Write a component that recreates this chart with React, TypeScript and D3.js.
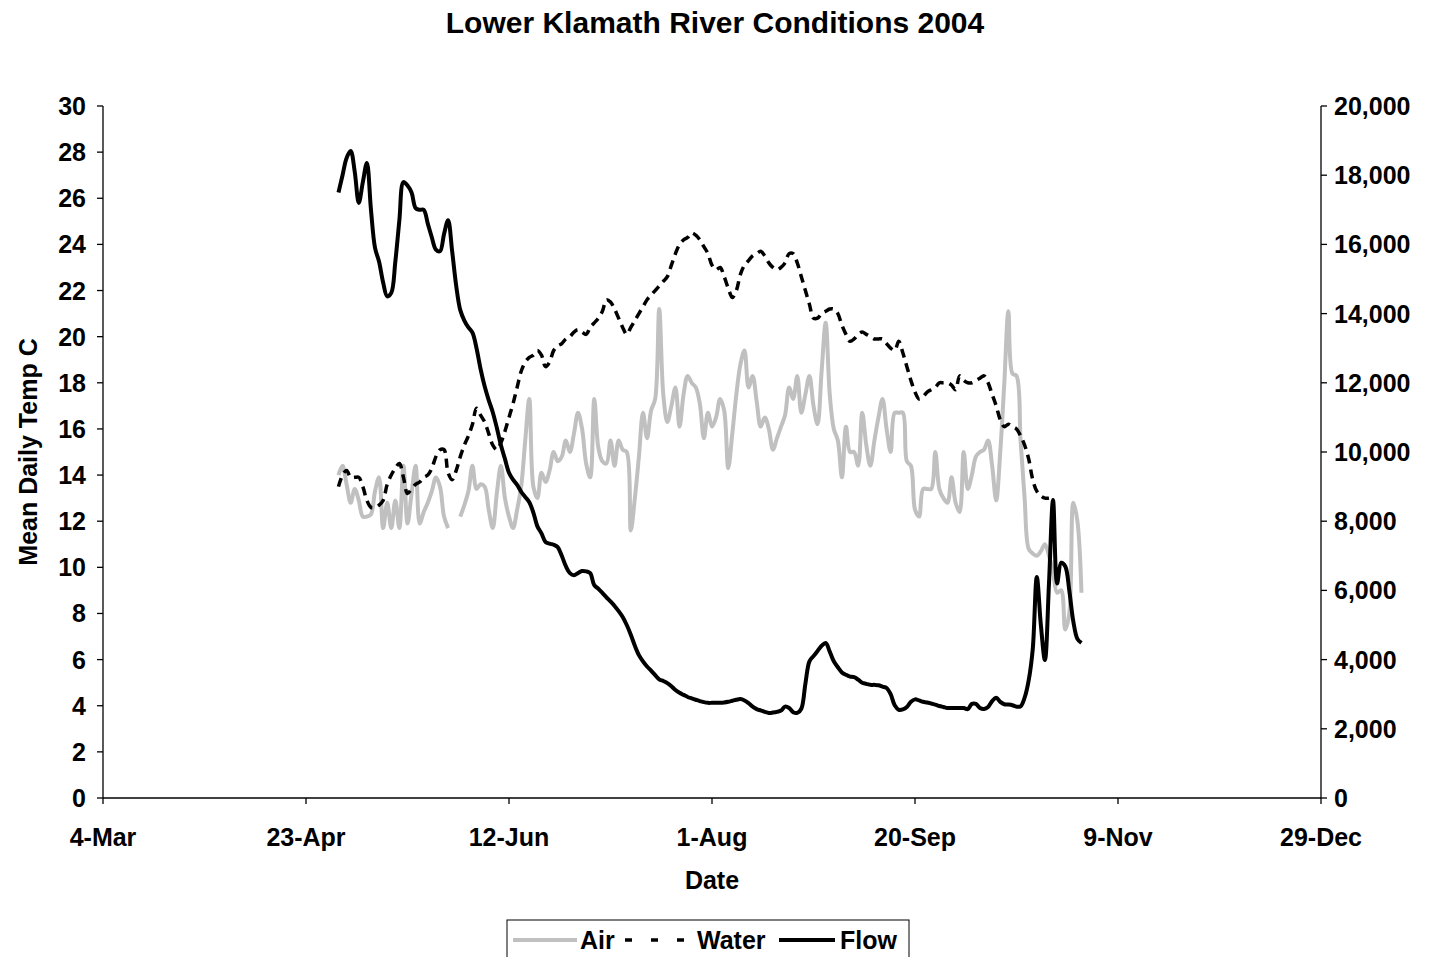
import React from "react";
import * as d3 from "d3";

const START = Date.UTC(2004, 4, 1);
const DAY = 86400000;

const airTemp: (number | null)[] = [
  14.0, 14.4, 13.6, 12.8, 13.4, 12.9, 12.2, 12.2, 12.3, 13.3,
  13.9, 11.7, 12.8, 11.7, 12.9, 11.7, 14.4, 11.9, 13.2, 14.4,
  11.9, 12.4, 12.8, 13.3, 13.9, 13.5, 12.2, 11.7, null, null,
  12.2, 12.7, 13.3, 14.4, 13.4, 13.6, 13.5, 12.5, 11.7, 13.2,
  14.4, 13.0, 12.2, 11.7, 12.5, 13.5, 15.5, 17.3, 13.5, 13.0,
  14.1, 13.7, 14.2, 15.0, 14.6, 14.8, 15.5, 15.0, 15.8, 16.7,
  16.0, 14.5, 13.9, 17.3, 15.2, 14.6, 14.5, 15.5, 14.4, 15.5,
  15.1, 15.0, 11.6, 13.0, 14.8, 16.7, 15.6, 16.8, 17.3, 21.2,
  17.5, 16.3, 17.0, 17.8, 16.1, 17.5, 18.3, 18.0, 17.8, 17.1,
  15.6, 16.7, 16.1, 16.5, 17.3, 16.8, 14.3, 15.8, 17.5, 18.8,
  19.4, 17.8, 18.3, 17.2, 16.1, 16.5, 16.0, 15.1, 15.6, 16.1,
  16.6, 17.8, 17.3, 18.3, 16.7, 17.5, 18.3, 17.0, 16.2, 18.5,
  20.6, 17.5, 16.0, 15.5, 13.9, 16.1, 15.0, 15.0, 14.4, 16.7,
  15.3, 14.4, 15.5, 16.5, 17.3, 16.0, 15.0, 16.7, 16.7, 16.7,
  14.6, 14.4, 12.5, 12.2, 13.4, 13.4, 13.4, 15.0, 13.4, 13.0,
  12.8, 13.9, 12.8, 12.4, 15.0, 13.4, 14.0, 14.8, 15.0, 15.1,
  15.5, 14.4, 12.9, 15.0, 18.0, 21.1, 18.4, 18.3, 15.5, 13.0,
  10.8, 10.6, 10.5, 10.7, 11.0, 10.5, 9.8, 8.9, 9.0, 7.3,
  8.0, 12.8, 12.0, 8.9,
];

const waterTemp: (number | null)[] = [
  13.5, 14.0, 14.2, 13.9, 13.9, 13.9, 13.5, 12.9, 12.6, 12.6,
  12.7, 12.9, 13.6, 14.0, 14.3, 14.5, 13.9, 13.2, 13.4, 13.6,
  13.7, 13.9, 14.0, 14.3, 14.8, 15.1, 15.1, 14.1, 13.8, 14.2,
  14.8, 15.3, 15.7, 16.2, 16.9, 16.6, 16.3, 15.8, 15.3, 15.1,
  15.4, 15.9, 16.5, 17.1, 17.8, 18.5, 18.9, 19.1, 19.2, 19.4,
  19.2, 18.7, 18.9, 19.4, 19.6, 19.7, 19.9, 20.0, 20.2, 20.3,
  20.2, 20.1, 20.4, 20.6, 20.8, 21.1, 21.6, 21.5, 21.2, 20.8,
  20.4, 20.1, 20.4, 20.7, 21.0, 21.3, 21.6, 21.8, 22.0, 22.2,
  22.4, 22.6, 23.1, 23.6, 24.0, 24.2, 24.3, 24.5, 24.4, 24.2,
  23.9, 23.6, 23.1, 22.9, 23.0, 22.6, 22.1, 21.7, 22.0, 22.7,
  23.1, 23.3, 23.5, 23.6, 23.7, 23.5, 23.2, 23.0, 22.9, 23.0,
  23.2, 23.6, 23.6, 23.2, 22.6, 22.0, 21.4, 20.8, 20.8, 21.0,
  21.1, 21.2, 21.2, 21.0, 20.5, 20.1, 19.8, 19.9, 20.1, 20.2,
  20.1, 20.0, 19.9, 19.9, 19.9, 19.7, 19.5, 19.4, 19.8, 19.3,
  18.7, 18.1, 17.6, 17.3, 17.4, 17.6, 17.7, 17.8, 18.0, 18.0,
  18.0, 17.9, 17.7, 18.3, 18.1, 18.0, 18.0, 18.1, 18.2, 18.3,
  18.0, 17.5, 17.0, 16.4, 16.1, 16.2, 16.1, 16.0, 15.7, 15.3,
  14.7, 13.8, 13.3, 13.1, 13.0, 13.0,
];

const flowCfs: (number | null)[] = [
  17500, 18000, 18500, 18700, 18100, 17200, 17800, 18350, 17000, 15900,
  15500, 14900, 14500, 14600, 15500, 16700, 17800, 17700, 17500, 17050,
  17000, 17000, 16600, 16200, 15850, 15800, 16300, 16700, 15800, 14800,
  14100, 13800, 13600, 13450, 13000, 12400, 11900, 11500, 11150, 10700,
  10200, 9800, 9400, 9200, 9050, 8850, 8700, 8550, 8250, 7850,
  7650, 7400, 7350, 7320, 7250, 7000, 6700, 6500, 6440, 6500,
  6560, 6550, 6500, 6150, 6050, 5930, 5800, 5680, 5550, 5400,
  5230, 5000, 4720, 4400, 4130, 3950, 3800, 3680, 3550, 3430,
  3380, 3320, 3230, 3120, 3040, 2980, 2920, 2880, 2840, 2800,
  2770, 2750, 2750, 2750, 2750, 2760, 2780, 2810, 2840, 2860,
  2820, 2740, 2640, 2570, 2530, 2490, 2460, 2470, 2490, 2530,
  2640, 2600, 2480, 2460, 2580, 3300, 3950, 4100, 4250, 4400,
  4480, 4230, 3950, 3780, 3630, 3560, 3510, 3490, 3420, 3330,
  3300, 3270, 3270, 3260, 3220, 3180, 3000, 2680, 2550, 2560,
  2630, 2780, 2850, 2820, 2780, 2760, 2730, 2700, 2660, 2630,
  2600, 2600, 2600, 2600, 2600, 2570, 2720, 2720, 2600, 2570,
  2630, 2800, 2900, 2780, 2710, 2700, 2680, 2640, 2650, 2900,
  3400, 4300, 6390, 5000, 3990, 6200, 8610, 6200, 6800, 6700,
  6000, 5100, 4600, 4480,
];

const xTickLabels = ["4-Mar", "23-Apr", "12-Jun", "1-Aug", "20-Sep", "9-Nov", "29-Dec"];
const leftTicks = [0, 2, 4, 6, 8, 10, 12, 14, 16, 18, 20, 22, 24, 26, 28, 30];
const rightTicks = [0, 2000, 4000, 6000, 8000, 10000, 12000, 14000, 16000, 18000, 20000];

const FONT = "Arial, 'Liberation Sans', sans-serif";

export default function App() {
  const W = 1429, H = 957;
  const L = 103, R = 1321, T = 106, B = 798;
  const x0 = Date.UTC(2004, 2, 4);
  const x = d3.scaleUtc().domain([new Date(x0), new Date(Date.UTC(2004, 11, 29))]).range([L, R]);
  const yL = d3.scaleLinear().domain([0, 30]).range([B, T]);
  const yR = d3.scaleLinear().domain([0, 20000]).range([B, T]);
  const xTicks = xTickLabels.map((_, i) => new Date(x0 + i * 50 * DAY));
  const dateOf = (i: number) => new Date(START + i * DAY);

  const mk = (vals: (number | null)[], y: d3.ScaleLinear<number, number>) =>
    d3.line<number | null>()
      .defined((d) => d != null)
      .x((_, i) => x(dateOf(i)))
      .y((d) => y(d as number))
      .curve(d3.curveCatmullRom.alpha(0.5))(vals) || "";

  const airPath = mk(airTemp, yL);
  const waterPath = mk(waterTemp, yL);
  const flowPath = mk(flowCfs, yR);
  const fmt = d3.format(",");
  const FS = 25;

  return (
    <svg width={W} height={H} style={{ position: "absolute", left: 0, top: 0, background: "#fff" }} fontFamily={FONT} fontWeight="bold">
      <rect x={0} y={0} width={W} height={H} fill="#fff" />
      <text x={715} y={33} textAnchor="middle" fontSize={30}>Lower Klamath River Conditions 2004</text>

      {/* axes */}
      <line x1={L} y1={T} x2={L} y2={B} stroke="#000" strokeWidth={1.3} />
      <line x1={R} y1={T} x2={R} y2={B} stroke="#000" strokeWidth={1.3} />
      <line x1={L} y1={B} x2={R} y2={B} stroke="#000" strokeWidth={1.3} />
      {leftTicks.map((t) => (
        <g key={"l" + t}>
          <line x1={L - 6} x2={L} y1={yL(t)} y2={yL(t)} stroke="#000" strokeWidth={1.3} />
          <text x={86} y={yL(t) + 9} textAnchor="end" fontSize={FS}>{t}</text>
        </g>
      ))}
      {rightTicks.map((t) => (
        <g key={"r" + t}>
          <line x1={R} x2={R + 6} y1={yR(t)} y2={yR(t)} stroke="#000" strokeWidth={1.3} />
          <text x={1334} y={yR(t) + 9} textAnchor="start" fontSize={FS}>{fmt(t)}</text>
        </g>
      ))}
      {xTicks.map((t, i) => (
        <g key={"x" + i}>
          <line x1={x(t)} x2={x(t)} y1={B} y2={B + 6} stroke="#000" strokeWidth={1.3} />
          <text x={x(t)} y={846} textAnchor="middle" fontSize={FS}>{xTickLabels[i]}</text>
        </g>
      ))}
      <text x={712} y={889} textAnchor="middle" fontSize={FS}>Date</text>
      <text transform={`translate(37,452) rotate(-90)`} textAnchor="middle" fontSize={FS}>Mean Daily Temp C</text>

      {/* series */}
      <path d={airPath} fill="none" stroke="#c0c0c0" strokeWidth={4} strokeLinejoin="round" />
      <path d={waterPath} fill="none" stroke="#000" strokeWidth={3.5} strokeDasharray="9,6" />
      <path d={flowPath} fill="none" stroke="#000" strokeWidth={4} strokeLinejoin="round" />

      {/* legend */}
      <rect x={507} y={920} width={402} height={45} fill="#fff" stroke="#000" strokeWidth={1} />
      <line x1={513} x2={577} y1={940} y2={940} stroke="#c0c0c0" strokeWidth={4} />
      <text x={580} y={949} fontSize={FS}>Air</text>
      <line x1={625} x2={690} y1={940} y2={940} stroke="#000" strokeWidth={3.5} strokeDasharray="7,19" />
      <text x={697} y={949} fontSize={FS}>Water</text>
      <line x1={779} x2={835} y1={940} y2={940} stroke="#000" strokeWidth={4} />
      <text x={840} y={949} fontSize={FS}>Flow</text>
    </svg>
  );
}
